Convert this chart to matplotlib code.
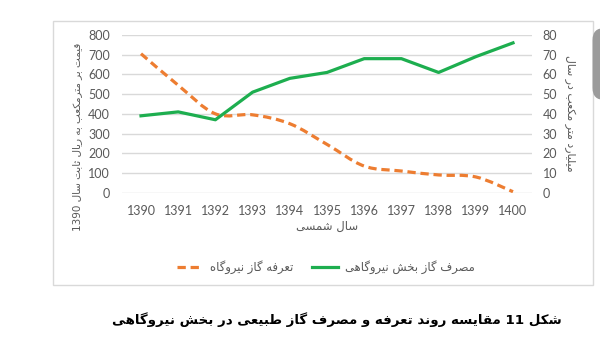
import re
import matplotlib
matplotlib.use("Agg")
import matplotlib.pyplot as plt
from matplotlib.path import Path
from matplotlib.patches import PathPatch, Rectangle, FancyBboxPatch
from matplotlib.lines import Line2D

# ---- data -------------------------------------------------------------
years = ["1390", "1391", "1392", "1393", "1394", "1395",
         "1396", "1397", "1398", "1399", "1400"]
tariff = [705, 545, 400, 395, 350, 245, 135, 110, 90, 80, 5]        # rial / m3 (left axis)
consumption = [39, 41, 37, 51, 58, 61, 68, 68, 61, 69, 76]           # bcm / year (right axis)

left_ticks = [0, 100, 200, 300, 400, 500, 600, 700, 800]
right_ticks = [0, 10, 20, 30, 40, 50, 60, 70, 80]

label_tariff = "تعرفه گاز نیروگاه"
label_consumption = "مصرف گاز بخش نیروگاهی"
left_ylabel = "قیمت بر مترمکعب به ریال ثابت سال 1390"
right_ylabel = "میلیارد متر مکعب در سال"
x_label = "سال شمسی"
caption = "شکل 11 مقایسه روند تعرفه و مصرف گاز طبیعی در بخش نیروگاهی"

# ---- minimal Persian shaping (contextual forms + visual order) -------
# char: (isolated, final, initial, medial); None => does not join forward
FORMS = {
    "ا": ("\uFE8D", "\uFE8E", None, None),
    "آ": ("\uFE81", "\uFE82", None, None),
    "ب": ("\uFE8F", "\uFE90", "\uFE91", "\uFE92"),
    "پ": ("\uFB56", "\uFB57", "\uFB58", "\uFB59"),
    "ت": ("\uFE95", "\uFE96", "\uFE97", "\uFE98"),
    "ث": ("\uFE99", "\uFE9A", "\uFE9B", "\uFE9C"),
    "ج": ("\uFE9D", "\uFE9E", "\uFE9F", "\uFEA0"),
    "چ": ("\uFB7A", "\uFB7B", "\uFB7C", "\uFB7D"),
    "ح": ("\uFEA1", "\uFEA2", "\uFEA3", "\uFEA4"),
    "خ": ("\uFEA5", "\uFEA6", "\uFEA7", "\uFEA8"),
    "د": ("\uFEA9", "\uFEAA", None, None),
    "ذ": ("\uFEAB", "\uFEAC", None, None),
    "ر": ("\uFEAD", "\uFEAE", None, None),
    "ز": ("\uFEAF", "\uFEB0", None, None),
    "ژ": ("\uFB8A", "\uFB8B", None, None),
    "س": ("\uFEB1", "\uFEB2", "\uFEB3", "\uFEB4"),
    "ش": ("\uFEB5", "\uFEB6", "\uFEB7", "\uFEB8"),
    "ص": ("\uFEB9", "\uFEBA", "\uFEBB", "\uFEBC"),
    "ض": ("\uFEBD", "\uFEBE", "\uFEBF", "\uFEC0"),
    "ط": ("\uFEC1", "\uFEC2", "\uFEC3", "\uFEC4"),
    "ظ": ("\uFEC5", "\uFEC6", "\uFEC7", "\uFEC8"),
    "ع": ("\uFEC9", "\uFECA", "\uFECB", "\uFECC"),
    "غ": ("\uFECD", "\uFECE", "\uFECF", "\uFED0"),
    "ف": ("\uFED1", "\uFED2", "\uFED3", "\uFED4"),
    "ق": ("\uFED5", "\uFED6", "\uFED7", "\uFED8"),
    "ک": ("\uFB8E", "\uFB8F", "\uFB90", "\uFB91"),
    "گ": ("\uFB92", "\uFB93", "\uFB94", "\uFB95"),
    "ل": ("\uFEDD", "\uFEDE", "\uFEDF", "\uFEE0"),
    "م": ("\uFEE1", "\uFEE2", "\uFEE3", "\uFEE4"),
    "ن": ("\uFEE5", "\uFEE6", "\uFEE7", "\uFEE8"),
    "و": ("\uFEED", "\uFEEE", None, None),
    "ه": ("\uFEE9", "\uFEEA", "\uFEEB", "\uFEEC"),
    "ی": ("\uFBFC", "\uFBFD", "\uFBFE", "\uFBFF"),
}


def _joins_forward(ch):
    return ch in FORMS and FORMS[ch][2] is not None


def shape(text):
    out = []
    for i, ch in enumerate(text):
        if ch not in FORMS:
            out.append(ch)
            continue
        prev_ch = text[i - 1] if i > 0 else ""
        next_ch = text[i + 1] if i + 1 < len(text) else ""
        join_prev = _joins_forward(prev_ch)
        join_next = _joins_forward(ch) and next_ch in FORMS
        iso, fin, ini, med = FORMS[ch]
        if join_prev and join_next:
            out.append(med)
        elif join_prev:
            out.append(fin)
        elif join_next:
            out.append(ini)
        else:
            out.append(iso)
    shaped = "".join(out)
    # right-to-left visual order, keeping digit runs left-to-right
    tokens = re.split(r"(\d+)", shaped)
    visual = [t if t.isdigit() else t[::-1] for t in reversed(tokens)]
    return "".join(visual)


# ---- figure -----------------------------------------------------------
W, H = 600, 337
fig = plt.figure(figsize=(W / 100, H / 100), dpi=100)
fig.patch.set_facecolor("white")


def fx(px):
    return px / W


def fy(py):
    return 1 - py / H


# chart frame
fig.add_artist(Rectangle((fx(53), fy(285)), fx(593) - fx(53), fy(21) - fy(285),
                         transform=fig.transFigure, fill=False,
                         edgecolor="#D9D9D9", linewidth=1.0))
# grey side button
fig.add_artist(FancyBboxPatch((fx(592.5), fy(100)), fx(20), fy(28) - fy(100),
                              boxstyle="round,pad=0,rounding_size=0.02",
                              transform=fig.transFigure, facecolor="#9B9B9B",
                              edgecolor="none", mutation_aspect=W / H))

ax = fig.add_axes([fx(122.4), fy(192.7), fx(531.6) - fx(122.4), fy(35) - fy(192.7)])
ax2 = ax.twinx()

grey = "#595959"
orange = "#ED7D31"
green = "#1DAE4F"
x = list(range(len(years)))

ax.set_xlim(-0.5, len(years) - 0.5)
ax.set_ylim(0, 800)
ax2.set_ylim(0, 80)
ax.set_yticks(left_ticks)
ax2.set_yticks(right_ticks)
ax.set_xticks(x)
ax.set_xticklabels(years)

for a in (ax, ax2):
    for s in a.spines.values():
        s.set_visible(False)
    a.tick_params(length=0, colors=grey, labelsize=9)
    for lab in a.get_xticklabels() + a.get_yticklabels():
        lab.set_fontfamily("Lato")
ax.tick_params(axis="y", pad=9)
ax2.tick_params(axis="y", pad=8)
ax.tick_params(axis="x", pad=9)
ax.grid(axis="y", color="#D9D9D9", linewidth=1.0)
ax.set_axisbelow(True)

# smoothed tariff curve (Bezier segments through each point)
pts = list(zip(x, tariff))
verts = [pts[0]]
codes = [Path.MOVETO]
for i in range(len(pts) - 1):
    p0 = pts[i - 1] if i > 0 else pts[i]
    p1 = pts[i]
    p2 = pts[i + 1]
    p3 = pts[i + 2] if i + 2 < len(pts) else pts[i + 1]
    c1 = (p1[0] + (p2[0] - p0[0]) / 6, p1[1] + (p2[1] - p0[1]) / 6)
    c2 = (p2[0] - (p3[0] - p1[0]) / 6, p2[1] - (p3[1] - p1[1]) / 6)
    verts += [c1, c2, p2]
    codes += [Path.CURVE4] * 3
tariff_patch = PathPatch(Path(verts, codes), fill=False, edgecolor=orange,
                         linewidth=2.3, linestyle=(0, (2.6, 1.5)),
                         capstyle="butt", zorder=3)
ax.add_patch(tariff_patch)

ax2.plot(x, consumption, color=green, linewidth=2.3, solid_joinstyle="round", zorder=3)

ar_font = "DejaVu Sans"
fig.text(fx(77), fy(137), shape(left_ylabel), rotation=90, ha="center", va="center",
         fontsize=7.5, color=grey, family=ar_font)
fig.text(fx(570), fy(113), shape(right_ylabel), rotation=270, ha="center", va="center",
         fontsize=7.8, color=grey, family=ar_font)
fig.text(fx(327), fy(226), shape(x_label), ha="center", va="center",
         fontsize=8.4, color=grey, family=ar_font)

handles = [Line2D([], [], color=orange, linewidth=2.3, linestyle=(0, (2.6, 1.5))),
           Line2D([], [], color=green, linewidth=2.3)]
leg = fig.legend(handles, [shape(label_tariff), shape(label_consumption)],
                 loc="center", bbox_to_anchor=(fx(326), fy(267)), ncol=2,
                 frameon=False, handlelength=2.2, handletextpad=0.6,
                 columnspacing=1.6, prop={"family": ar_font, "size": 8.4})
for t in leg.get_texts():
    t.set_color(grey)

fig.text(fx(336.5), fy(320), shape(caption), ha="center", va="center",
         fontsize=9.6, fontweight="bold", color="black", family=ar_font)

fig.savefig("out.png", dpi=100, facecolor="white")
